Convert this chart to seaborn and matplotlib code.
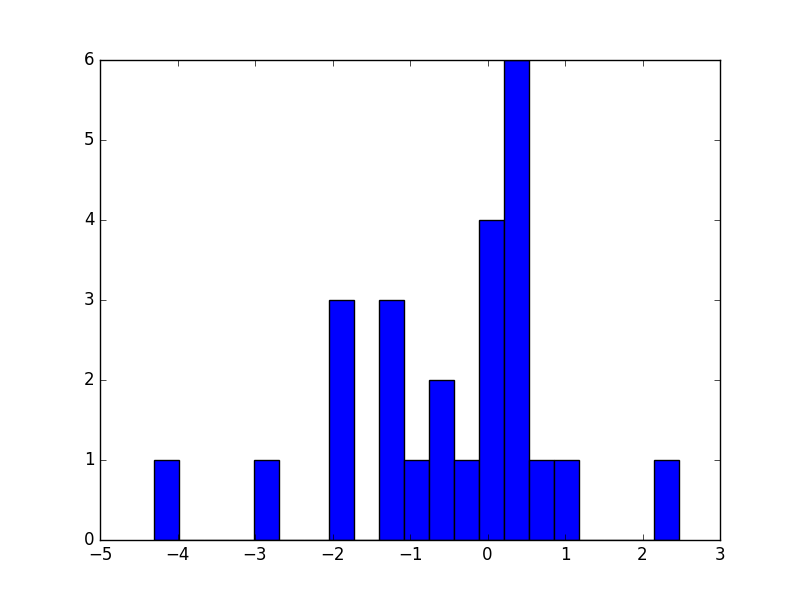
import matplotlib
matplotlib.use("Agg")
import matplotlib.pyplot as plt
import numpy as np
import pandas as pd
import seaborn as sns

# histogram: 21 equal bins between the data min and max
bin_lo = -4.30
bin_hi = 2.47
counts = [1, 0, 0, 0, 1, 0, 0, 3, 0, 3, 1, 2, 1, 4, 6, 1, 1, 0, 0, 0, 1]

edges = np.linspace(bin_lo, bin_hi, len(counts) + 1)
df = pd.DataFrame({"x": (edges[:-1] + edges[1:]) / 2, "n": counts})

plt.style.use("classic")
fig, ax = plt.subplots(figsize=(8, 6), dpi=100)
fig.patch.set_facecolor("white")

sns.histplot(data=df, x="x", weights="n", bins=len(counts),
             binrange=(bin_lo, bin_hi), color="#0000ff",
             edgecolor="black", linewidth=1, alpha=1, ax=ax)

ax.set_xlim(-5, 3)
ax.set_ylim(0, 6)
ax.set_xlabel("")
ax.set_ylabel("")
plt.subplots_adjust(left=0.125, right=0.9, bottom=0.1, top=0.9)
fig.savefig("out.png", dpi=100, facecolor="white")
